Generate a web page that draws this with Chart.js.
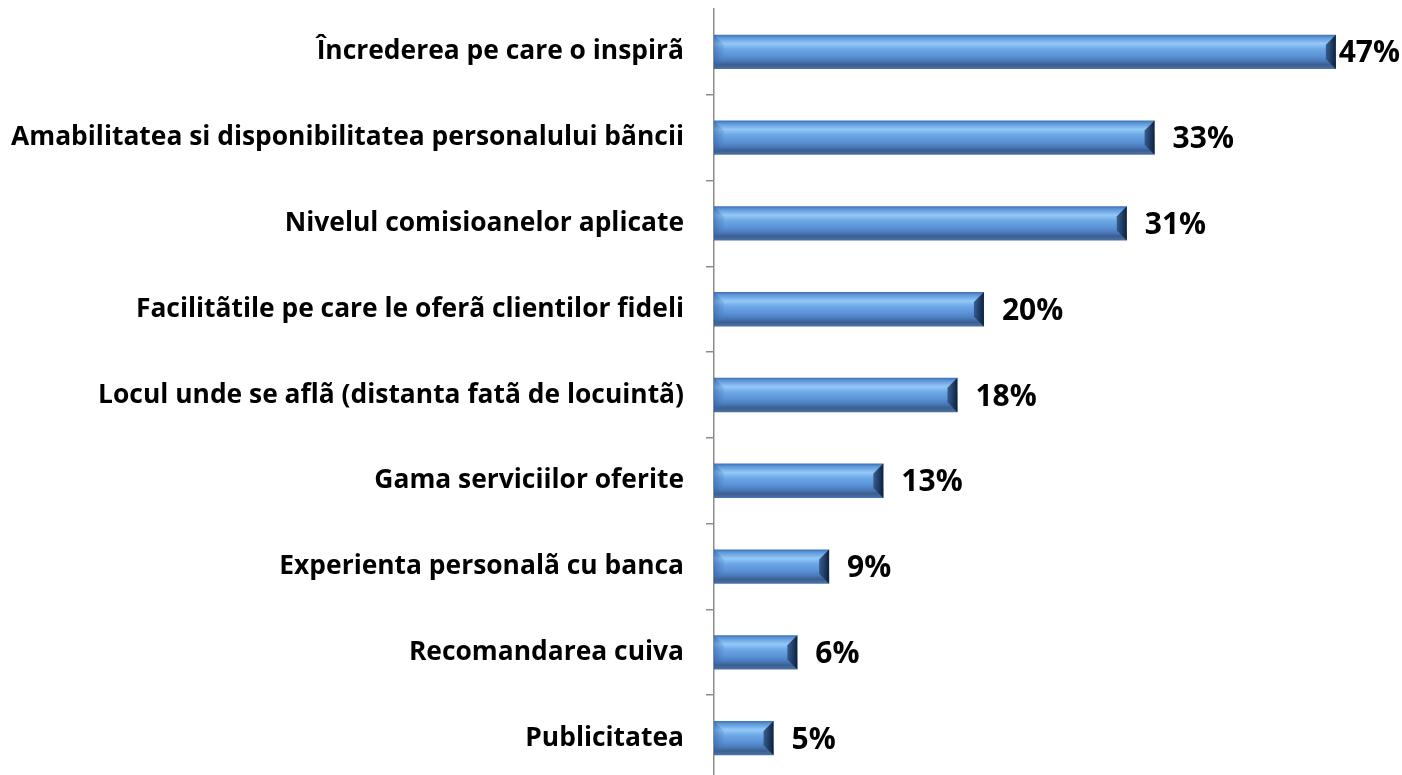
<!DOCTYPE html>
<html>
<head>
<meta charset="utf-8">
<script src="https://cdn.jsdelivr.net/npm/chart.js@4.4.1/dist/chart.umd.min.js"></script>
<style>
  html, body { margin: 0; padding: 0; background: #fff; }
  #wrap { width: 1402px; height: 775px; overflow: hidden; }
</style>
</head>
<body>
<div id="wrap"><canvas id="chart" width="1402" height="781"></canvas></div>
<script>
// --- DATA ---
const categories = [
    'Încrederea pe care o inspirã',
    'Amabilitatea si disponibilitatea personalului bãncii',
    'Nivelul comisioanelor aplicate',
    'Facilitãtile pe care le oferã clientilor fideli',
    'Locul unde se aflã (distanta fatã de locuintã)',
    'Gama serviciilor oferite',
    'Experienta personalã cu banca',
    'Recomandarea cuiva',
    'Publicitatea'
];
const shares = [47, 33.3, 31.2, 20.4, 18.4, 12.8, 8.7, 6.3, 4.5]; // % of respondents
const axisMax = 52;

const AXIS_GRAY = '#8c8c8c';

// vertical gradient for each bar, built around its own centre line
function barGradient(context) {
    const chart = context.chart;
    if (!chart.chartArea) return '#5a8fd6';
    const yScale = chart.scales.y;
    const y = yScale.getPixelForValue(context.dataIndex);
    const half = 17;
    const g = chart.ctx.createLinearGradient(0, y - half, 0, y + half);
    g.addColorStop(0, '#3f72b6');
    g.addColorStop(0.08, '#5e97da');
    g.addColorStop(0.26, '#94c9f7');
    g.addColorStop(0.42, '#6ca7e6');
    g.addColorStop(0.62, '#5b92d6');
    g.addColorStop(0.76, '#4a7cbd');
    g.addColorStop(0.88, '#3b5e8e');
    g.addColorStop(1, '#4b73a8');
    return g;
}

// bevelled ends on the bars
const bevelPlugin = {
    id: 'bevel',
    afterDatasetsDraw(chart) {
        const ctx = chart.ctx;
        const meta = chart.getDatasetMeta(0);
        meta.data.forEach((bar) => {
            const x0 = bar.base, x1 = bar.x;
            const y0 = bar.y - bar.height / 2, y1 = bar.y + bar.height / 2;
            const b = 10;
            ctx.save();
            // right end, dark
            let g = ctx.createLinearGradient(x1 - b, 0, x1, 0);
            g.addColorStop(0, 'rgba(45,80,130,0.85)');
            g.addColorStop(1, 'rgba(12,32,60,1)');
            ctx.fillStyle = g;
            ctx.beginPath();
            ctx.moveTo(x1, y0);
            ctx.lineTo(x1, y1);
            ctx.lineTo(x1 - b, y1 - b);
            ctx.lineTo(x1 - b, y0 + b);
            ctx.closePath();
            ctx.fill();
            // left end, soft
            g = ctx.createLinearGradient(x0, 0, x0 + b, 0);
            g.addColorStop(0, 'rgba(50,95,160,0.55)');
            g.addColorStop(1, 'rgba(80,130,200,0.2)');
            ctx.fillStyle = g;
            ctx.beginPath();
            ctx.moveTo(x0, y0);
            ctx.lineTo(x0 + b, y0 + b);
            ctx.lineTo(x0 + b, y1 - b);
            ctx.lineTo(x0, y1);
            ctx.closePath();
            ctx.fill();
            ctx.restore();
        });
    }
};

// percentage labels at the end of each bar
const valueLabels = {
    id: 'valueLabels',
    afterDatasetsDraw(chart) {
        const ctx = chart.ctx;
        const meta = chart.getDatasetMeta(0);
        ctx.save();
        ctx.font = 'bold 30px "Open Sans"';
        ctx.fillStyle = '#000';
        ctx.textBaseline = 'middle';
        meta.data.forEach((bar, i) => {
            const text = Math.round(shares[i]) + '%';
            const w = ctx.measureText(text).width;
            const x = Math.min(bar.x + 18, chart.width - w - 2);
            ctx.fillText(text, x, bar.y + 2);
        });
        ctx.restore();
    }
};

new Chart(document.getElementById('chart'), {
    type: 'bar',
    data: {
        labels: categories,
        datasets: [{
            data: shares,
            backgroundColor: barGradient,
            borderWidth: 0,
            barPercentage: 0.4,
            categoryPercentage: 1
        }]
    },
    options: {
        indexAxis: 'y',
        responsive: false,
        animation: false,
        layout: { padding: { top: 9, right: 0, bottom: 0, left: 0 } },
        plugins: {
            legend: { display: false },
            tooltip: { enabled: false }
        },
        scales: {
            x: {
                display: false,
                min: 0,
                max: axisMax
            },
            y: {
                afterFit: (scale) => {
                    scale.width = 714;
                    // no extra room above/below for half-label heights
                    scale.paddingTop = 0;
                    scale.paddingBottom = 0;
                },
                grid: {
                    offset: true,
                    drawOnChartArea: false,
                    tickLength: 8,
                    color: (c) => c.index === 0 ? 'rgba(0,0,0,0)' : AXIS_GRAY,
                    lineWidth: 1.5
                },
                border: { color: AXIS_GRAY, width: 1.5 },
                ticks: {
                    padding: 22,
                    color: '#000',
                    font: { family: '"Open Sans"', weight: 'bold', size: 26.4 }
                }
            }
        }
    },
    plugins: [bevelPlugin, valueLabels]
});
</script>
</body>
</html>
